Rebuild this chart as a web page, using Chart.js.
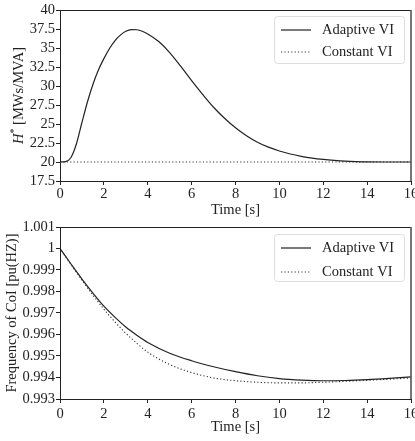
<!DOCTYPE html>
<html>
<head>
<meta charset="utf-8">
<script src="https://cdn.jsdelivr.net/npm/chart.js@4.4.0/dist/chart.umd.min.js"></script>
<style>
html, body { margin: 0; padding: 0; background: #fff; }
#wrap { position: relative; width: 415px; height: 441px; overflow: hidden; }
canvas { position: absolute; left: 0; }
</style>
</head>
<body>
<div id="wrap">
  <canvas id="topChart" width="415" height="220" style="top:0"></canvas>
  <canvas id="bottomChart" width="415" height="221" style="top:220px"></canvas>
</div>
<script>
// ---- data ----
const timeTop = [0, 0.25, 0.5, 0.75, 1, 1.25, 1.5, 1.75, 2, 2.25, 2.5, 2.75, 3, 3.25, 3.5, 3.75, 4, 4.5, 5, 5.5, 6, 6.5, 7, 7.5, 8, 8.5, 9, 9.5, 10, 10.5, 11, 11.5, 12, 12.5, 13, 13.5, 14, 15, 16];
const adaptiveH = [20, 20.05, 20.6, 22.4, 25.2, 27.9, 30.2, 32.1, 33.6, 34.9, 35.95, 36.7, 37.2, 37.42, 37.4, 37.2, 36.85, 35.85, 34.4, 32.6, 30.7, 28.9, 27.2, 25.75, 24.5, 23.45, 22.6, 21.95, 21.45, 21.05, 20.75, 20.52, 20.35, 20.22, 20.12, 20.06, 20.02, 20.0, 20.0];
const constantTimeTop = [0, 16];
const constantH = [20, 20];

const timeBottom = [0, 0.5, 1, 1.5, 2, 2.5, 3, 3.5, 4, 5, 6, 7, 8, 9, 10, 11, 12, 13, 14, 15, 16];
const adaptiveF = [1.0, 0.99928, 0.99858, 0.99793, 0.99732, 0.99681, 0.99635, 0.99597, 0.99563, 0.99513, 0.99478, 0.99450, 0.99427, 0.99408, 0.99395, 0.99388, 0.99385, 0.99386, 0.99390, 0.99396, 0.99403];
const constantF = [1.0, 0.99926, 0.99853, 0.99783, 0.99718, 0.99659, 0.99606, 0.99559, 0.99518, 0.99460, 0.99423, 0.99398, 0.99385, 0.99378, 0.99375, 0.99375, 0.99378, 0.99382, 0.99387, 0.99392, 0.99398];

const timeTicks = [0, 2, 4, 6, 8, 10, 12, 14, 16];
const topYTicks = [17.5, 20, 22.5, 25, 27.5, 30, 32.5, 35, 37.5, 40];
const bottomYTicks = [0.993, 0.994, 0.995, 0.996, 0.997, 0.998, 0.999, 1, 1.001];
const seriesNames = ['Adaptive VI', 'Constant VI'];

const FONT = '"Liberation Serif", "Times New Roman", serif';
const FSIZE = 14.5;

function pts(xs, ys) {
    return xs.map((x, i) => ({x: x, y: ys[i]}));
}

function fmt(v) {
    return String(Number(v.toFixed(4)));
}

// frame round the plot area (top and right spines)
const frame = {
    id: 'frame',
    afterDatasetsDraw(chart) {
        const a = chart.chartArea;
        const c = chart.ctx;
        c.save();
        c.strokeStyle = '#222';
        c.lineWidth = 1;
        c.beginPath();
        c.moveTo(a.left, a.top + 0.5);
        c.lineTo(a.right, a.top + 0.5);
        c.stroke();
        c.strokeStyle = '#555';
        c.lineWidth = 1.6;
        c.beginPath();
        c.moveTo(a.right, a.top);
        c.lineTo(a.right, a.bottom);
        c.stroke();
        c.restore();
    }
};

// matplotlib-like legend box in the upper right
const legendBox = {
    id: 'legendBox',
    afterDatasetsDraw(chart, args, opts) {
        const a = chart.chartArea;
        const c = chart.ctx;
        const w = 130, h = 47;
        const x = a.right - 7 - w, y = a.top + opts.top;
        c.save();
        c.fillStyle = 'rgba(255,255,255,0.85)';
        c.strokeStyle = '#ddd';
        c.lineWidth = 1;
        c.beginPath();
        c.roundRect(x + 0.5, y + 0.5, w, h, 3);
        c.fill();
        c.stroke();
        c.font = FSIZE + 'px ' + FONT;
        c.textBaseline = 'middle';
        c.fillStyle = '#222';
        chart.data.datasets.forEach((ds, i) => {
            const ry = y + 14 + i * opts.gap;
            c.strokeStyle = ds.borderColor;
            c.lineWidth = ds.borderWidth;
            c.setLineDash(ds.borderDash || []);
            c.beginPath();
            c.moveTo(x + 7, ry);
            c.lineTo(x + 37, ry);
            c.stroke();
            c.setLineDash([]);
            c.fillText(ds.label, x + 48, ry);
        });
        c.restore();
    }
};

// y title with italic H and superscript star
const hTitle = {
    id: 'hTitle',
    afterDraw(chart, args, opts) {
        if (!opts.on) return;
        const a = chart.chartArea;
        const c = chart.ctx;
        const parts = [
            {t: 'H', f: 'italic ' + FSIZE + 'px ' + FONT, dy: 0},
            {t: '*', f: '10px ' + FONT, dy: -5},
            {t: ' [MWs/MVA]', f: FSIZE + 'px ' + FONT, dy: 0}
        ];
        let total = 0;
        parts.forEach(p => { c.font = p.f; p.w = c.measureText(p.t).width; total += p.w; });
        c.save();
        c.translate(19, (a.top + a.bottom) / 2);
        c.rotate(-Math.PI / 2);
        c.fillStyle = '#222';
        c.textBaseline = 'middle';
        let px = -total / 2;
        parts.forEach(p => {
            c.font = p.f;
            c.fillText(p.t, px, p.dy);
            px += p.w;
        });
        c.restore();
    }
};

function axisOpts(ticks, min, max, extra) {
    return Object.assign({
        type: 'linear',
        min: min,
        max: max,
        afterBuildTicks: s => { s.ticks = ticks.map(v => ({value: v})); },
        grid: {drawOnChartArea: false, drawTicks: true, tickLength: 4, color: '#222', tickColor: '#222'},
        border: {display: true, color: '#222', width: 1},
        ticks: {
            color: '#222',
            font: {family: FONT, size: FSIZE},
            maxRotation: 0,
            autoSkip: false,
            callback: v => fmt(v)
        }
    }, extra);
}

function makeChart(id, cfg) {
    const lines = [
        {label: seriesNames[0], data: cfg.adaptive, borderColor: '#222', borderWidth: 1.2},
        {label: seriesNames[1], data: cfg.constant, borderColor: '#333', borderWidth: 1.1, borderDash: [1.2, 2.2]}
    ];
    lines.forEach(d => {
        d.pointRadius = 0;
        d.fill = false;
        d.cubicInterpolationMode = 'monotone';
    });

    const xAxis = axisOpts(timeTicks, 0, 16, {
        title: {display: true, text: 'Time [s]', color: '#222', font: {family: FONT, size: FSIZE}, padding: {top: 0, bottom: cfg.xTitlePad}},
        afterFit: s => { s.height = cfg.xHeight; s.paddingLeft = 0; s.paddingRight = 0; }
    });
    xAxis.ticks.padding = cfg.xTickPad;

    const yAxis = axisOpts(cfg.yTicks, cfg.yMin, cfg.yMax, {
        title: {display: cfg.yTitle !== '', text: cfg.yTitle, color: '#222', font: {family: FONT, size: FSIZE}, padding: {top: cfg.yTitlePad, bottom: 0}},
        afterFit: s => { s.width = 60; s.paddingTop = 0; s.paddingBottom = 0; }
    });
    yAxis.ticks.padding = 1;

    return new Chart(document.getElementById(id), {
        type: 'line',
        data: {datasets: lines},
        options: {
            responsive: false,
            animation: false,
            events: [],
            layout: {padding: {top: cfg.padTop, left: 0, right: 4, bottom: 0}},
            scales: {x: xAxis, y: yAxis},
            plugins: {
                legend: {display: false},
                tooltip: {enabled: false},
                legendBox: {top: cfg.legendTop, gap: cfg.legendGap},
                hTitle: {on: cfg.italicTitle}
            }
        },
        plugins: [frame, legendBox, hTitle]
    });
}

makeChart('topChart', {
    adaptive: pts(timeTop, adaptiveH),
    constant: pts(constantTimeTop, constantH),
    yTicks: topYTicks, yMin: 17.5, yMax: 40,
    yTitle: '', italicTitle: true, yTitlePad: 0,
    padTop: 10, xHeight: 39, xTickPad: 0, xTitlePad: 1,
    legendTop: 6, legendGap: 22
});

makeChart('bottomChart', {
    adaptive: pts(timeBottom, adaptiveF),
    constant: pts(timeBottom, constantF),
    yTicks: bottomYTicks, yMin: 0.993, yMax: 1.001,
    yTitle: 'Frequency of CoI [pu(HZ)]', italicTitle: false, yTitlePad: 3.5,
    padTop: 7, xHeight: 42, xTickPad: 2, xTitlePad: 5,
    legendTop: 7, legendGap: 24
});
</script>
</body>
</html>
